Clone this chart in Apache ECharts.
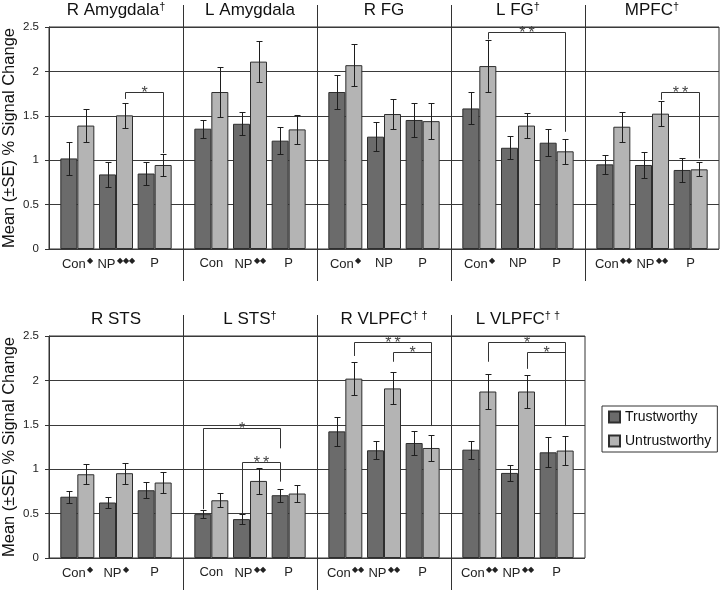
<!DOCTYPE html>
<html>
<head>
<meta charset="utf-8">
<script src="https://cdn.jsdelivr.net/npm/echarts@6/dist/echarts.min.js"></script>
<style>
  html, body { margin: 0; padding: 0; background: #fff; }
  #chart-box { width: 720px; height: 590px; }
</style>
</head>
<body>
<div id="chart-box"></div>
<script>
// panel titles (regions) and the daggers after them
var topRegions = ['R Amygdala', 'L Amygdala', 'R FG', 'L FG', 'MPFC']
var topDaggers = ['†', '', '', '†', '†']
var bottomRegions = ['R STS', 'L STS', 'R VLPFC', 'L VLPFC']
var bottomDaggers = ['', '†', '† †', '† †']

var conditions = ['Con', 'NP', 'P']
var legendNames = ['Trustworthy', 'Untrustworthy']

// number of diamonds after each condition label
var topDiamonds = [[1, 3, 0], [0, 2, 0], [1, 0, 0], [1, 0, 0], [2, 2, 0]]
var bottomDiamonds = [[1, 1, 0], [0, 2, 0], [2, 2, 0], [2, 2, 0]]

// mean % signal change, top row
var topTrust = [[1.02, 0.84, 0.85], [1.355, 1.41, 1.22], [1.768, 1.265, 1.453], [1.583, 1.14, 1.197], [0.953, 0.946, 0.89]]
var topUntrust = [[1.39, 1.505, 0.946], [1.768, 2.11, 1.347], [2.07, 1.52, 1.44], [2.06, 1.39, 1.10], [1.377, 1.524, 0.897]]
var topTrustSE = [[0.19, 0.14, 0.13], [0.10, 0.13, 0.15], [0.19, 0.16, 0.19], [0.18, 0.13, 0.15], [0.11, 0.15, 0.13]]
var topUntrustSE = [[0.19, 0.14, 0.12], [0.28, 0.23, 0.16], [0.24, 0.17, 0.20], [0.29, 0.14, 0.14], [0.17, 0.14, 0.08]]

// bottom row
var bottomTrust = [[0.69, 0.625, 0.763], [0.494, 0.438, 0.707], [1.426, 1.213, 1.295], [1.22, 0.958, 1.19]]
var bottomUntrust = [[0.943, 0.955, 0.85], [0.65, 0.868, 0.726], [2.02, 1.91, 1.239], [1.875, 1.875, 1.21]]
var bottomTrustSE = [[0.07, 0.06, 0.09], [0.045, 0.055, 0.075], [0.16, 0.10, 0.14], [0.10, 0.09, 0.17]]
var bottomUntrustSE = [[0.11, 0.12, 0.12], [0.08, 0.145, 0.10], [0.19, 0.18, 0.15], [0.20, 0.19, 0.16]]

// significance brackets: [panel, fromCat, fromSeries(0 T / 1 U), toCat, toSeries, top, fromEnd, toEnd]
var topBrackets = [[0, 1, 1, 2, 1, 1.77, 1.69, 1.08], [3, 0, 1, 2, 1, 2.44, 2.36, 1.32], [4, 1, 1, 2, 1, 1.77, 1.68, 1.02]]
var topBracketLabels = ['*', '**', '**']
var bottomBrackets = [
  [1, 0, 0, 2, 0, 1.46, 0.55, 1.235], [1, 1, 0, 2, 0, 1.085, 0.5, 0.86],
  [2, 0, 1, 2, 1, 2.43, 2.275, 1.486], [2, 1, 1, 2, 1, 2.32, 2.21, 1.486],
  [3, 0, 1, 2, 1, 2.43, 2.21, 1.486], [3, 1, 1, 2, 1, 2.32, 2.13, 1.486]
]
var bottomBracketLabels = ['*', '**', '**', '*', '*', '*']

var yMin = 0, yMax = 2.5, yStep = 0.5

// layout
var LEFT = 49, PANEL_W = 134, PAD = 9, BAR_W = 17
var FONT = '"Liberation Sans", Arial, sans-serif'
var rows = [
  { top: 27, height: 222, sepTop: 5, sepBottom: 281, regions: topRegions, daggers: topDaggers, diamonds: topDiamonds,
    trust: topTrust, untrust: topUntrust, trustSE: topTrustSE, untrustSE: topUntrustSE, brackets: topBrackets, bracketLabels: topBracketLabels },
  { top: 336, height: 222, sepTop: 315, sepBottom: 590, regions: bottomRegions, daggers: bottomDaggers, diamonds: bottomDiamonds,
    trust: bottomTrust, untrust: bottomUntrust, trustSE: bottomTrustSE, untrustSE: bottomUntrustSE, brackets: bottomBrackets, bracketLabels: bottomBracketLabels }
]

var chart = echarts.init(document.getElementById('chart-box'))

var grids = [], xAxes = [], yAxes = [], series = [], graphics = []

function renderErr(params, api) {
  var cat = api.value(0), ser = api.value(1), v = api.value(2), e = api.value(3)
  var x = Math.round(api.coord([cat, v])[0] + (ser - 0.5) * BAR_W) + 0.5
  var hi = Math.round(api.coord([cat, v + e])[1]) + 0.5
  var lo = Math.round(api.coord([cat, v - e])[1]) + 0.5
  var st = { stroke: '#1e1e1e', lineWidth: 1 }
  return {
    type: 'group',
    children: [
      { type: 'line', shape: { x1: x, y1: hi, x2: x, y2: lo }, style: st },
      { type: 'line', shape: { x1: x - 3, y1: hi, x2: x + 3, y2: hi }, style: st },
      { type: 'line', shape: { x1: x - 3, y1: lo, x2: x + 3, y2: lo }, style: st }
    ]
  }
}

function makeBracketRenderer(labels) {
  return function (params, api) {
    var x1 = Math.round(api.coord([api.value(0), 0])[0] + (api.value(1) - 0.5) * BAR_W) + 0.5
    var x2 = Math.round(api.coord([api.value(2), 0])[0] + (api.value(3) - 0.5) * BAR_W) + 0.5
    var yTop = Math.round(api.coord([0, api.value(4)])[1]) + 0.5
    var y1 = api.coord([0, api.value(5)])[1]
    var y2 = api.coord([0, api.value(6)])[1]
    var label = labels[api.value(7)].split('').join('\u2009')
    return {
      type: 'group',
      children: [
        { type: 'polyline', shape: { points: [[x1, y1], [x1, yTop], [x2, yTop], [x2, y2]] },
          style: { stroke: '#333', lineWidth: 1, fill: null } },
        { type: 'text', x: (x1 + x2) / 2, y: yTop + 1,
          style: { text: label, fill: '#444', font: '16px ' + FONT, align: 'center', verticalAlign: 'middle' } }
      ]
    }
  }
}

rows.forEach(function (row, r) {
  var n = row.regions.length
  // frame grid of the row: gridlines, y axis, titles
  var fi = grids.length
  grids.push({ left: LEFT, top: row.top, width: n * PANEL_W, height: row.height, show: true, borderColor: '#333', borderWidth: 1, outerBoundsMode: 'none' })
  xAxes.push({
    gridIndex: fi, type: 'category', position: 'top', data: row.regions,
    axisLine: { show: false }, axisTick: { show: false }, splitLine: { show: false },
    axisLabel: {
      interval: 0, margin: 8, color: '#111', fontFamily: FONT, fontSize: 17,
      formatter: function (v, i) { return row.daggers[i] ? v + '{s|' + row.daggers[i] + '}' : v },
      rich: { s: { fontSize: 11, fontFamily: FONT, color: '#111', padding: [0, 0, 7, 0] } }
    }
  })
  yAxes.push({
    gridIndex: fi, type: 'value', min: yMin, max: yMax, interval: yStep,
    name: 'Mean (±SE) % Signal Change', nameLocation: 'middle', nameGap: 31, nameMoveOverlap: false,
    nameTextStyle: { fontSize: 16.5, fontFamily: FONT, color: '#111' },
    axisLine: { show: true, lineStyle: { color: '#333' } },
    axisTick: { show: true, length: 4, lineStyle: { color: '#333' } },
    axisLabel: { fontSize: 11.5, fontFamily: FONT, color: '#222', margin: 10 },
    splitLine: { show: true, lineStyle: { color: '#3a3a3a', width: 1 } }
  })
  series.push({ type: 'bar', xAxisIndex: fi, yAxisIndex: fi, data: [], silent: true })

  // panel separators, reaching above the titles and below the labels
  for (var k = 1; k < n; k++) {
    var sx = LEFT + k * PANEL_W + 0.5
    graphics.push({ type: 'line', shape: { x1: sx, y1: row.sepTop, x2: sx, y2: row.sepBottom }, style: { stroke: '#333', lineWidth: 1 }, z: 10 })
  }

  for (var p = 0; p < n; p++) {
    var gi = grids.length
    var diam = row.diamonds[p]
    grids.push({ left: LEFT + p * PANEL_W + PAD, top: row.top, width: PANEL_W - 2 * PAD, height: row.height, outerBoundsMode: 'none' })
    xAxes.push({
      gridIndex: gi, type: 'category', data: conditions,
      axisLine: { show: false }, axisTick: { show: false },
      axisLabel: {
        interval: 0, margin: 8, color: '#222', fontFamily: FONT, fontSize: 13,
        formatter: (function (d) {
          return function (v, i) { return d[i] ? v + '{d|' + '◆'.repeat(d[i]) + '}' : v }
        })(diam),
        rich: { d: { fontSize: 8, color: '#222', padding: [0, 0, 6, 1] } }
      }
    })
    yAxes.push({ gridIndex: gi, type: 'value', min: yMin, max: yMax, show: false })

    series.push({
      name: legendNames[0], type: 'bar', xAxisIndex: gi, yAxisIndex: gi, barWidth: BAR_W, barGap: '0%',
      animation: false, silent: true, data: row.trust[p],
      itemStyle: { color: '#6b6b6b', borderColor: '#2e2e2e', borderWidth: 1 }
    })
    series.push({
      name: legendNames[1], type: 'bar', xAxisIndex: gi, yAxisIndex: gi, barWidth: BAR_W, barGap: '0%',
      animation: false, silent: true, data: row.untrust[p],
      itemStyle: { color: '#b4b4b4', borderColor: '#2e2e2e', borderWidth: 1 }
    })

    var errData = []
    for (var c = 0; c < conditions.length; c++) {
      errData.push([c, 0, row.trust[p][c], row.trustSE[p][c]])
      errData.push([c, 1, row.untrust[p][c], row.untrustSE[p][c]])
    }
    series.push({
      type: 'custom', xAxisIndex: gi, yAxisIndex: gi, renderItem: renderErr, data: errData,
      encode: { x: 0, y: 2 }, animation: false, silent: true, z: 5
    })

    var brData = []
    row.brackets.forEach(function (b, bi) {
      if (b[0] === p) brData.push(b.slice(1).concat([bi]))
    })
    if (brData.length) {
      series.push({
        type: 'custom', xAxisIndex: gi, yAxisIndex: gi, renderItem: makeBracketRenderer(row.bracketLabels),
        data: brData, encode: { x: 0, y: 4 }, animation: false, silent: true, clip: false, z: 6
      })
    }
  }
})

var option = {
  animation: false,
  textStyle: { fontFamily: FONT },
  grid: grids,
  xAxis: xAxes,
  yAxis: yAxes,
  legend: {
    data: legendNames, orient: 'vertical', left: 602, top: 406,
    icon: 'rect', itemWidth: 11, itemHeight: 11, itemGap: 10,
    padding: [4, 6, 4, 6], borderColor: '#333', borderWidth: 1, backgroundColor: '#fff',
    textStyle: { fontSize: 14, fontFamily: FONT, color: '#111' },
    selectedMode: false
  },
  graphic: graphics,
  series: series
}
option && chart.setOption(option)
</script>
</body>
</html>
